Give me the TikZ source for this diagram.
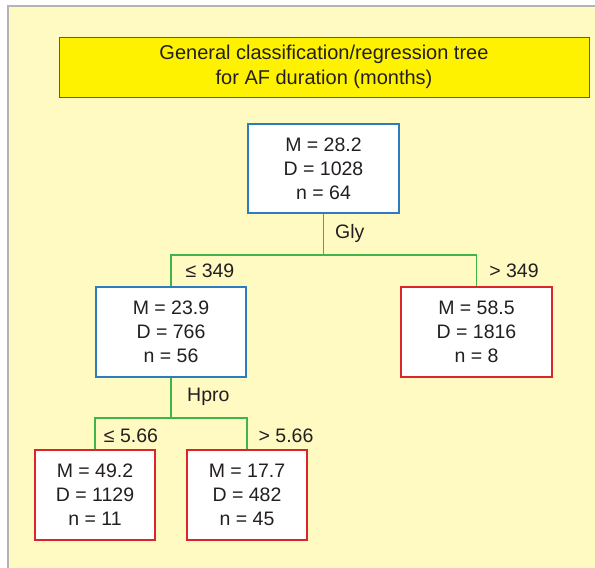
\documentclass[tikz,border=0pt]{standalone}
\usepackage{fontspec}
\setmainfont{Liberation Sans}
\definecolor{bg}{HTML}{FFF9C2}
\definecolor{bord}{HTML}{B4B4B4}
\definecolor{tyellow}{HTML}{FFF200}
\definecolor{tred}{HTML}{D8262B}
\definecolor{nblue}{HTML}{2B7DC0}
\definecolor{ngreen}{HTML}{3DB54A}
\definecolor{txt}{HTML}{231F20}
\tikzset{
  box/.style={draw, fill=white, line width=1.2pt, align=center, font=\fontsize{19.5}{24}\selectfont, text=txt, inner sep=0pt},
  bluebox/.style={box, draw=nblue},
  redbox/.style={box, draw=tred},
  edge/.style={draw=ngreen, line width=1.4pt},
  lbl/.style={font=\fontsize{19.5}{21}\selectfont, text=txt, inner sep=0pt}
}
\begin{document}
\begin{tikzpicture}[x=1pt,y=-1pt]
\useasboundingbox (0,0) rectangle (595,568);
\fill[white] (0,0) rectangle (595,568);
\fill[bg] (8,6) rectangle (595,568);
\draw[bord, line width=1.4pt] (8,568) -- (8,6) -- (595,6);
\node[draw=tred, fill=tyellow, line width=1pt, minimum width=530pt, minimum height=60pt, align=center, text=txt, font=\fontsize{20}{25}\selectfont] (title) at (324,67) {General classification/regression tree\\for AF duration (months)};
\node[bluebox, minimum width=151pt, minimum height=89pt] (root) at (323.5,168.5) {M = 28.2\\D = 1028\\n = 64};
\node[bluebox, minimum width=150pt, minimum height=90pt] (L) at (171,332) {M = 23.9\\D = 766\\n = 56};
\node[redbox, minimum width=151pt, minimum height=90pt] (R) at (476.5,332) {M = 58.5\\D = 1816\\n = 8};
\node[redbox, minimum width=120pt, minimum height=90pt] (LL) at (95,495) {M = 49.2\\D = 1129\\n = 11};
\node[redbox, minimum width=120pt, minimum height=90pt] (LR) at (247,495) {M = 17.7\\D = 482\\n = 45};
\coordinate (j1) at (323.5,255);
\coordinate (j2) at (171,418);
\draw[edge] (root.south) -- (j1);
\draw[edge] (L.north) |- (j1) -| (R.north);
\draw[edge] (L.south) -- (j2);
\draw[edge] (LL.north) |- (j2) -| (LR.north);
\node[lbl, anchor=west] (gly) at (335,233) {Gly};
\node[lbl] (le349) at (210,271) {≤ 349};
\node[lbl] (gt349) at (514,271) {> 349};
\node[lbl, anchor=west] (hpro) at (187,397) {Hpro};
\node[lbl] (le566) at (131,436) {≤ 5.66};
\node[lbl] (gt566) at (286,436) {> 5.66};
\end{tikzpicture}
\end{document}
